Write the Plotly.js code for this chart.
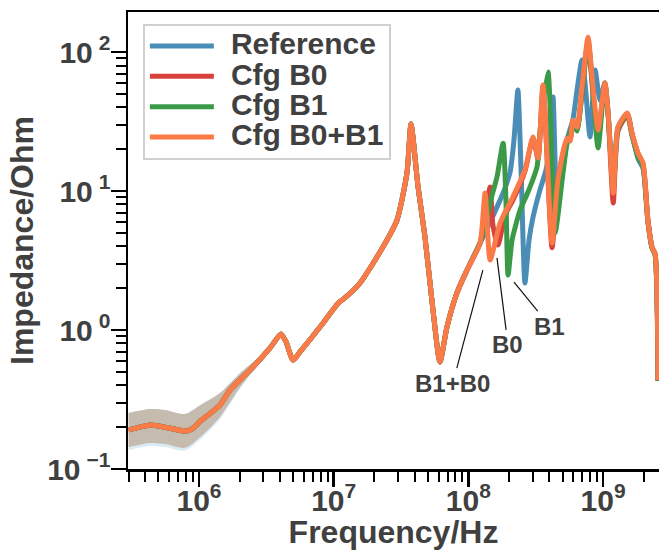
<!DOCTYPE html>
<html>
<head>
<meta charset="utf-8">
<script src="https://cdn.plot.ly/plotly-3.0.1.min.js"></script>
<style>html,body{margin:0;padding:0;background:#fff;}#chart{width:659px;height:550px;}</style>
</head>
<body>
<div id="chart"></div>
<script>
// Shared low/mid-frequency response (all configurations overlap here)
const freqCommon = [3.0e5, 3.65e5, 4.33e5, 5.6e5, 7.87e5, 8.87e5, 1.02e6, 1.43e6, 1.70e6, 2.52e6, 3.37e6, 4.06e6, 4.43e6, 4.99e6, 5.62e6, 7.91e6, 1.08e7, 1.21e7, 1.57e7, 2.32e7, 2.95e7, 3.5e7, 3.75e7, 4.23e7, 4.76e7, 5.46e7, 6.15e7, 6.93e7, 8.22e7, 9.77e7, 1.22e8];
const zCommon = [0.191, 0.200, 0.207, 0.200, 0.1875, 0.194, 0.22, 0.288, 0.370, 0.542, 0.743, 0.935, 0.82, 0.608, 0.695, 1.05, 1.56, 1.70, 2.18, 3.95, 6.18, 13.5, 30.3, 10.7, 4.67, 1.39, 0.589, 1.05, 1.85, 2.70, 4.22];

// High-frequency part, per configuration
const freqRef = [1.33e8, 1.45e8, 1.81e8, 2.04e8, 2.18e8, 2.33e8, 2.46e8, 2.63e8, 2.82e8, 3.02e8, 3.40e8, 3.77e8, 4.04e8, 4.25e8, 4.55e8, 4.96e8, 5.40e8, 5.98e8, 6.40e8, 6.97e8, 7.34e8, 8.00e8, 8.71e8, 9.49e8, 1.03e9, 1.09e9, 1.19e9, 1.29e9, 1.51e9, 1.64e9, 1.82e9, 1.98e9, 2.15e9, 2.31e9, 2.43e9, 2.56e9];
const zRef = [5.0, 5.98, 9.68, 13.7, 23.3, 53.3, 14.2, 2.18, 4.44, 6.50, 10.2, 14.2, 22.1, 47.4, 7.93, 13.0, 23.3, 33.0, 53.0, 87.5, 60.0, 24.5, 74.2, 45.0, 59.8, 36.0, 10.0, 28.8, 36.0, 26.0, 17.0, 14.5, 6.2, 3.9, 3.5, 0.43];

const freqB0 = [1.33e8, 1.45e8, 1.52e8, 1.66e8, 1.87e8, 2.14e8, 2.63e8, 3.02e8, 3.29e8, 3.58e8, 4.18e8, 4.62e8, 5.40e8, 5.68e8, 5.98e8, 6.40e8, 6.97e8, 7.73e8, 8.41e8, 9.17e8, 1.03e9, 1.09e9, 1.19e9, 1.29e9, 1.51e9, 1.64e9, 1.82e9, 1.98e9, 2.15e9, 2.31e9, 2.43e9, 2.56e9];
const zB0 = [6.5, 10.7, 5.69, 4.09, 6.7, 8.6, 13.9, 24.0, 17.0, 57.0, 3.9, 12.0, 23.0, 23.0, 31.0, 28.0, 50.0, 118, 50.0, 26.0, 57.0, 35.0, 8.2, 27.0, 35.0, 25.5, 18.5, 15.5, 6.2, 3.9, 3.5, 0.43];

const freqB1 = [1.33e8, 1.50e8, 1.63e8, 1.81e8, 1.90e8, 1.97e8, 2.11e8, 2.42e8, 2.77e8, 3.23e8, 3.46e8, 3.90e8, 4.40e8, 5.04e8, 5.40e8, 5.98e8, 6.40e8, 6.97e8, 7.73e8, 8.41e8, 9.17e8, 1.03e9, 1.09e9, 1.19e9, 1.29e9, 1.51e9, 1.64e9, 1.82e9, 1.98e9, 2.15e9, 2.31e9, 2.43e9, 2.56e9];
const zB1 = [5.69, 9.36, 12.6, 22.1, 8.61, 2.49, 4.44, 7.30, 9.84, 14.9, 32.4, 71.8, 4.99, 13.5, 22.0, 30.0, 27.0, 52.0, 120, 52.0, 20.4, 59.8, 36.0, 10.5, 28.0, 36.0, 25.0, 17.5, 15.0, 6.0, 3.9, 3.5, 0.43];

const freqB0B1 = [1.33e8, 1.45e8, 1.72e8, 2.14e8, 2.63e8, 3.02e8, 3.29e8, 3.58e8, 4.18e8, 4.62e8, 5.40e8, 5.68e8, 5.98e8, 6.40e8, 6.97e8, 7.73e8, 8.41e8, 9.17e8, 1.03e9, 1.09e9, 1.19e9, 1.29e9, 1.51e9, 1.64e9, 1.82e9, 1.98e9, 2.15e9, 2.31e9, 2.43e9, 2.56e9];
const zB0B1 = [9.68, 3.19, 5.89, 9.06, 14.2, 24.5, 17.3, 57.9, 4.22, 12.0, 24.0, 23.0, 32.4, 28.8, 56.0, 128, 56.0, 27.5, 59.8, 36.4, 9.68, 28.8, 36.4, 26.1, 18.7, 15.9, 6.18, 3.95, 3.58, 0.436];

// Spread bands at low frequency
const bandFreq = [3.0e5, 4.33e5, 5.6e5, 7.87e5, 1.02e6, 1.43e6, 2.02e6, 2.84e6, 3.6e6];
const bandLo = [0.144, 0.154, 0.151, 0.142, 0.170, 0.237, 0.389, 0.589, 0.78];
const bandHi = [0.253, 0.270, 0.266, 0.249, 0.288, 0.352, 0.491, 0.65, 0.80];
const bandLoOuter = [0.137, 0.147, 0.144, 0.136, 0.163, 0.228, 0.378, 0.58, 0.78];

const seriesNames = ['Reference', 'Cfg B0', 'Cfg B1', 'Cfg B0+B1'];
const seriesColors = ['#4a8db7', '#d9423b', '#3a9a48', '#fa7a48'];
const seriesFreq = [freqRef, freqB0, freqB1, freqB0B1];
const seriesZ = [zRef, zB0, zB1, zB0B1];

const annTexts = ['B1+B0', 'B0', 'B1'];
const annFreq = [1.28e8, 1.63e8, 2.18e8];
const annZ = [2.70, 3.30, 2.21];

const sp = {width: 0, color: 'rgba(0,0,0,0)', shape: 'spline', smoothing: 0.8};
const traces = [];
traces.push({x: bandFreq, y: bandLoOuter, mode: 'lines', line: sp, showlegend: false, hoverinfo: 'skip'});
traces.push({x: bandFreq, y: bandHi, mode: 'lines', line: sp, fill: 'tonexty', fillcolor: 'rgba(170,210,230,0.45)', showlegend: false, hoverinfo: 'skip'});
traces.push({x: bandFreq, y: bandLo, mode: 'lines', line: sp, showlegend: false, hoverinfo: 'skip'});
traces.push({x: bandFreq, y: bandHi, mode: 'lines', line: sp, fill: 'tonexty', fillcolor: 'rgba(180,140,105,0.5)', showlegend: false, hoverinfo: 'skip'});
for (let i = 0; i < 4; i++) {
  traces.push({
    x: freqCommon.concat(seriesFreq[i]),
    y: zCommon.concat(seriesZ[i]),
    mode: 'lines',
    name: '<span style="font-size:30px">\u2009\u2009' + seriesNames[i] + '</span>',
    line: {color: seriesColors[i], width: 5, shape: 'spline', smoothing: 0.6}
  });
}

// minor tick positions (2..9 in each decade)
const minorX = [], minorY = [];
for (let d = 5; d <= 9; d++) for (let m = 2; m <= 9; m++) minorX.push(m * Math.pow(10, d));
for (let d = -1; d <= 2; d++) for (let m = 2; m <= 9; m++) minorY.push(m * Math.pow(10, d));

const txtColor = '#404040';
const fam = 'Liberation Sans, Arial, sans-serif';
const annotations = annTexts.map((t, i) => ({
  x: Math.log10(annFreq[i]), y: Math.log10(annZ[i]), xref: 'x', yref: 'y',
  text: t, showarrow: true, arrowhead: 0, arrowwidth: 1.2, arrowcolor: '#111',
  ax: [-30, 11, 36][i], ay: [113, 87, 44][i],
  font: {size: 24, color: txtColor, family: fam, weight: 'bold'}
}));

const tickFont = {size: 30, color: txtColor, family: fam, weight: 'bold'};
const titleFont = {size: 32, color: txtColor, family: fam, weight: 'bold'};

const layout = {
  width: 659, height: 550,
  margin: {l: 128, r: 0, t: 12, b: 81},
  paper_bgcolor: '#fff', plot_bgcolor: '#fff',
  font: {family: fam, color: txtColor, weight: 'bold'},
  showlegend: true,
  legend: {
    x: 0.028, y: 0.974, xanchor: 'left', yanchor: 'top', traceorder: 'normal',
    bgcolor: 'rgba(255,255,255,0.9)', bordercolor: '#d0d0d0', borderwidth: 2,
    font: {size: 21, color: txtColor, family: fam, weight: 'bold'},
    itemwidth: 64, tracegroupgap: 0
  },
  xaxis: {
    type: 'log', range: [5.473, 9.415],
    showgrid: false, zeroline: false,
    showline: true, linecolor: '#000', linewidth: 2.5, mirror: true,
    ticks: 'outside', ticklen: 15, tickwidth: 2.5, tickcolor: '#000',
    tickvals: [1e6, 1e7, 1e8, 1e9],
    ticktext: ['10<sup>6</sup>', '10<sup>7</sup>', '10<sup>8</sup>', '10<sup>9</sup>'],
    tickfont: tickFont, ticklabelstandoff: -12,
    minor: {ticks: 'outside', ticklen: 10, tickwidth: 2, tickcolor: '#000', tickmode: 'array', tickvals: minorX, showgrid: false},
    title: {text: 'Frequency/Hz', font: titleFont, standoff: 2}
  },
  yaxis: {
    type: 'log', range: [-1, 2.288],
    showgrid: false, zeroline: false,
    showline: true, linecolor: '#000', linewidth: 2.5,
    ticks: 'outside', ticklen: 15, tickwidth: 2.5, tickcolor: '#000',
    tickvals: [0.1, 1, 10, 100],
    ticktext: ['10\u2009<sup>\u22121</sup>', '10\u2009<sup>0</sup>', '10\u2009<sup>1</sup>', '10\u2009<sup>2</sup>'],
    tickfont: tickFont, ticklabelstandoff: -6,
    minor: {ticks: 'outside', ticklen: 10, tickwidth: 2, tickcolor: '#000', tickmode: 'array', tickvals: minorY, showgrid: false},
    title: {text: 'Impedance/Ohm', font: titleFont, standoff: 4}
  },
  annotations: annotations
};

Plotly.newPlot('chart', traces, layout, {displayModeBar: false, staticPlot: true});
</script>
</body>
</html>
